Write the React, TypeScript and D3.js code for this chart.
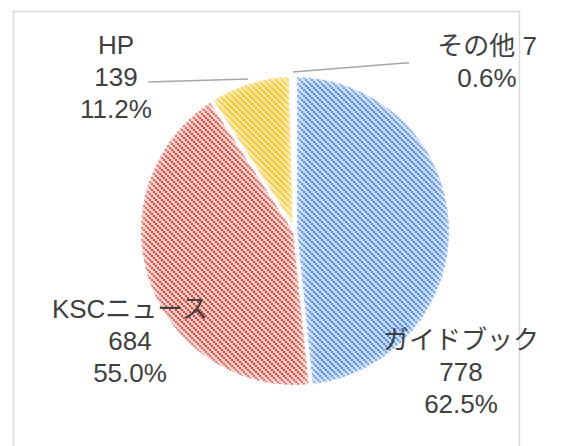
import React from 'react';
import * as d3 from 'd3';

const categories = ['ガイドブック', 'KSCニュース', 'HP', 'その他'];
const counts = [778, 684, 139, 7];
const percents = ['62.5%', '55.0%', '11.2%', '0.6%'];

const fg = ['#3f7ff2', '#e8382c', '#f9b800', '#34a853'];
const bg = ['#c9dcfc', '#f8cfcb', '#fde7a3', '#c4e8cf'];

// label blocks: centre x, first baseline y, whether the value sits on the name line
const labelPos = [
  { x: 461, y: 349, inline: false },
  { x: 130, y: 318, inline: false },
  { x: 116, y: 54, inline: false },
  { x: 487, y: 55, inline: true },
];

const W = 579;
const H = 446;
const cx = 295;
const cy = 231;
const R = 156;

export default function App() {
  const pie = d3.pie<number>().sort(null).value(d => d)(counts);
  const arc = d3.arc<d3.PieArcDatum<number>>().innerRadius(0).outerRadius(R);
  const font = "'Liberation Sans', Arial, 'Noto Sans CJK JP', sans-serif";

  const leader = (i: number, end: [number, number], tail: number) => {
    const a = (pie[i].startAngle + pie[i].endAngle) / 2;
    const p0: [number, number] = [cx + Math.sin(a) * (R + 3), cy - Math.cos(a) * (R + 3)];
    const pts: [number, number][] = [p0, end, [end[0] + tail, end[1]]];
    return d3.line()(pts) || '';
  };

  return (
    <svg width={W} height={H} style={{ position: 'absolute', left: 0, top: 0 }}>
      <defs>
        {fg.map((c, i) => (
          <pattern key={i} id={`pat${i}`} width={6} height={6} patternUnits="userSpaceOnUse">
            <rect width={6} height={6} fill={bg[i]} />
            <rect x={0} y={0} width={2} height={2} fill={c} />
            <rect x={2} y={2} width={2} height={2} fill={c} />
            <rect x={4} y={4} width={2} height={2} fill={c} />
          </pattern>
        ))}
        {pie.map((d, i) => (
          <clipPath key={i} id={`clip${i}`}>
            <path d={arc(d) || ''} transform={`translate(${cx},${cy})`} />
          </clipPath>
        ))}
        <filter id="glow" x="-20%" y="-20%" width="140%" height="140%">
          <feGaussianBlur stdDeviation={3} />
        </filter>
      </defs>
      <rect x={13.5} y={11.5} width={506} height={H} fill="#fff" stroke="#d9d9d9" strokeWidth={1.5} />
      {pie.map((d, i) => (
        <g key={i}>
          <g clipPath={`url(#clip${i})`}>
            <path d={arc(d) || ''} transform={`translate(${cx},${cy})`} fill={`url(#pat${i})`} />
            <path
              d={arc(d) || ''}
              transform={`translate(${cx},${cy})`}
              fill="none"
              stroke="#fff"
              strokeOpacity={0.4}
              strokeWidth={10}
              filter="url(#glow)"
            />
          </g>
          <path
            d={arc(d) || ''}
            transform={`translate(${cx},${cy})`}
            fill="none"
            stroke="#fff"
            strokeWidth={4}
            strokeLinejoin="round"
          />
        </g>
      ))}
      <path d={leader(2, [148, 82], 0)} fill="none" stroke="#a6a6a6" strokeWidth={1.5} />
      <path d={leader(3, [405, 63], 4)} fill="none" stroke="#a6a6a6" strokeWidth={1.5} />
      {categories.map((c, i) => {
        const p = labelPos[i];
        const lines = p.inline
          ? [`${c} ${counts[i]}`, percents[i]]
          : [c, `${counts[i]}`, percents[i]];
        return (
          <text key={i} x={p.x} y={p.y} textAnchor="middle" fontFamily={font} fontSize={26} fill="#404040">
            {lines.map((t, j) => (
              <tspan key={j} x={p.x} dy={j === 0 ? 0 : 32}>
                {t}
              </tspan>
            ))}
          </text>
        );
      })}
    </svg>
  );
}
